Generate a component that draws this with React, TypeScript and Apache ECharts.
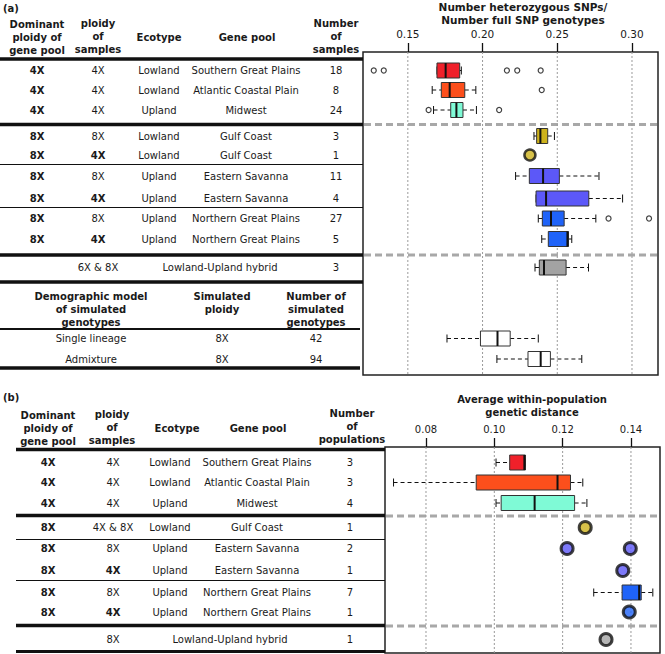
import React, { useEffect, useRef } from 'react';
import * as echarts from 'echarts';

// ---------------- DATA : panel (a) ----------------
const dominantA = ['4X', '4X', '4X', '8X', '8X', '8X', '8X', '8X', '8X', ''];
const ploidyA = ['4X', '4X', '4X', '8X', '4X', '8X', '4X', '8X', '4X', '6X & 8X'];
const ecotypeA = ['Lowland', 'Lowland', 'Upland', 'Lowland', 'Lowland', 'Upland', 'Upland', 'Upland', 'Upland', ''];
const genePoolA = [
  'Southern Great Plains', 'Atlantic Coastal Plain', 'Midwest', 'Gulf Coast', 'Gulf Coast',
  'Eastern Savanna', 'Eastern Savanna', 'Northern Great Plains', 'Northern Great Plains', 'Lowland-Upland hybrid',
];
const nSamplesA = ['18', '8', '24', '3', '1', '11', '4', '27', '5', '3'];
const simModel = ['Single lineage', 'Admixture'];
const simPloidy = ['8X', '8X'];
const simN = ['42', '94'];
const tickValuesA = [0.15, 0.2, 0.25, 0.3];

// five-number summaries [min, q1, median, q3, max] per row (rows 10, 11 = simulated)
const boxStatsA: (number[] | null)[] = [
  [0.1695, 0.1695, 0.1753, 0.1847, 0.1858],
  [0.1663, 0.1724, 0.178, 0.1881, 0.1955],
  [0.1672, 0.1787, 0.1825, 0.1869, 0.1959],
  [0.2344, 0.2362, 0.2387, 0.2436, 0.2481],
  null,
  [0.2221, 0.2313, 0.2405, 0.2514, 0.2779],
  [0.2358, 0.2358, 0.2425, 0.2711, 0.2937],
  [0.2373, 0.24, 0.2458, 0.2546, 0.2758],
  [0.2396, 0.244, 0.2568, 0.2575, 0.2597],
  [0.2351, 0.238, 0.2411, 0.2559, 0.2709],
  [0.1762, 0.1986, 0.21, 0.2185, 0.2373],
  [0.2096, 0.2304, 0.2389, 0.2454, 0.2664],
];
const outliersA: [number, number][] = [
  [0, 0.1272], [0, 0.1339], [0, 0.2163], [0, 0.2232], [0, 0.2389],
  [1, 0.2396], [2, 0.1639], [2, 0.2111], [7, 0.2843], [7, 0.3114],
];
const pointsA: [number, number][] = [[4, 0.2317]];

// ---------------- DATA : panel (b) ----------------
const dominantB = ['4X', '4X', '4X', '8X', '8X', '8X', '8X', '8X', ''];
const ploidyB = ['4X', '4X', '4X', '4X & 8X', '8X', '4X', '8X', '4X', '8X'];
const ecotypeB = ['Lowland', 'Lowland', 'Upland', 'Lowland', 'Upland', 'Upland', 'Upland', 'Upland', ''];
const genePoolB = [
  'Southern Great Plains', 'Atlantic Coastal Plain', 'Midwest', 'Gulf Coast', 'Eastern Savanna',
  'Eastern Savanna', 'Northern Great Plains', 'Northern Great Plains', 'Lowland-Upland hybrid',
];
const nPopsB = ['3', '3', '4', '1', '2', '1', '7', '1', '1'];
const tickValuesB = [0.08, 0.1, 0.12, 0.14];
const boxStatsB: (number[] | null)[] = [
  [0.1005, 0.1045, 0.1088, 0.1091, 0.1091],
  [0.0705, 0.0947, 0.1185, 0.1223, 0.1259],
  [0.1005, 0.102, 0.1118, 0.1235, 0.1271],
  null,
  null,
  null,
  [0.1291, 0.1374, 0.1424, 0.143, 0.1464],
  null,
  null,
];
const pointsB: [number, number][] = [
  [3, 0.1266], [4, 0.1213], [4, 0.1398], [5, 0.1376], [7, 0.1395], [8, 0.1327],
];

// ---------------- LAYOUT / STYLE ----------------
const ROW_Y_A = [70.5, 90, 110, 136, 155, 176, 198.5, 218.5, 239, 267.5, 338.5, 359];
const ROW_Y_B = [462.5, 482.5, 503, 527.5, 548.5, 570.5, 592.5, 612, 639.5];
const COLORS_A = ['#f0202a', '#fc4f1c', '#7ffad6', '#cdb21c', '#cdb21c', '#5c58f8', '#5c58f8', '#1f63f8', '#1f63f8', '#a3a3a3', '#ffffff', '#ffffff'];
const COLORS_B = ['#f0202a', '#fc4f1c', '#7ffad6', '#cdb21c', '#5c58f8', '#5c58f8', '#1f63f8', '#1f63f8', '#a3a3a3'];
const BOLD_PLOIDY_A = [false, false, false, false, true, false, true, false, true, false];
const BOLD_PLOIDY_B = [false, false, false, false, false, true, false, true, false];
const GA = { left: 363, top: 52, right: 658, bottom: 375 };
const GB = { left: 385, top: 447, right: 660, bottom: 653 };
const FONT = '"DejaVu Sans", Verdana, sans-serif';
const INK = '#1a1a1a';

function txt(x: number, y: number, text: string, bold = false, align = 'center', size = 10): any {
  return {
    type: 'text', x, y, silent: true,
    style: {
      text, fill: INK, font: `${bold ? 'bold ' : ''}${size}px ${FONT}`,
      textAlign: align, verticalAlign: 'middle', textVerticalAlign: 'middle', lineHeight: 13,
    },
  };
}
function hline(x1: number, x2: number, y: number, w: number, color = '#111', dash?: number[]): any {
  return {
    type: 'line', silent: true,
    shape: { x1, y1: y, x2, y2: y },
    style: { stroke: color, lineWidth: w, lineDash: dash },
  };
}

function makeBoxRender(colors: string[]) {
  return (params: any, api: any) => {
    const y = api.value(0);
    const row = api.value(6);
    const xs = [1, 2, 3, 4, 5].map((i) => api.coord([api.value(i), y])[0]);
    const cy = api.coord([api.value(1), y])[1];
    const h = 15;
    const cap = 4;
    const ls = { stroke: '#111', lineWidth: 1 };
    return {
      type: 'group',
      children: [
        { type: 'line', shape: { x1: xs[0], y1: cy, x2: xs[1], y2: cy }, style: { ...ls, lineDash: [4, 3] } },
        { type: 'line', shape: { x1: xs[3], y1: cy, x2: xs[4], y2: cy }, style: { ...ls, lineDash: [4, 3] } },
        { type: 'line', shape: { x1: xs[0], y1: cy - cap, x2: xs[0], y2: cy + cap }, style: ls },
        { type: 'line', shape: { x1: xs[4], y1: cy - cap, x2: xs[4], y2: cy + cap }, style: ls },
        { type: 'rect', shape: { x: xs[1], y: cy - h / 2, width: xs[3] - xs[1], height: h }, style: { fill: colors[row], stroke: '#333', lineWidth: 1 } },
        { type: 'line', shape: { x1: xs[2], y1: cy - h / 2, x2: xs[2], y2: cy + h / 2 }, style: { stroke: '#111', lineWidth: 2 } },
      ],
    };
  };
}

function gridLineRender(params: any, api: any) {
  const x = api.coord([api.value(0), api.value(1)])[0];
  const cs = params.coordSys;
  return {
    type: 'line',
    shape: { x1: x, y1: cs.y, x2: x, y2: cs.y + cs.height },
    style: { stroke: '#9a9a9a', lineWidth: 1, lineDash: [2, 2] },
  };
}

function buildOption() {
  const boxDataA = boxStatsA
    .map((s, i) => (s ? [ROW_Y_A[i], ...s, i] : null))
    .filter((d) => d !== null);
  const boxDataB = boxStatsB
    .map((s, i) => (s ? [ROW_Y_B[i], ...s, i] : null))
    .filter((d) => d !== null);

  const graphic: any[] = [];
  // ---- panel (a) table ----
  graphic.push(txt(3, 8, '(a)', true, 'left'));
  graphic.push(txt(37, 37, 'Dominant\nploidy of\ngene pool', true));
  graphic.push(txt(98, 36, 'ploidy\nof\nsamples', true));
  graphic.push(txt(159, 37, 'Ecotype', true));
  graphic.push(txt(247, 37, 'Gene pool', true));
  graphic.push(txt(336, 36, 'Number\nof\nsamples', true));
  for (let i = 0; i < genePoolA.length; i++) {
    const y = ROW_Y_A[i];
    if (dominantA[i]) graphic.push(txt(37, y, dominantA[i], true));
    if (i === 9) {
      graphic.push(txt(98, y, ploidyA[i]));
      graphic.push(txt(220, y, genePoolA[i]));
    } else {
      graphic.push(txt(98, y, ploidyA[i], BOLD_PLOIDY_A[i]));
      graphic.push(txt(159, y, ecotypeA[i]));
      graphic.push(txt(246, y, genePoolA[i]));
    }
    graphic.push(txt(336, y, nSamplesA[i]));
  }
  graphic.push(txt(91, 309, 'Demographic model\nof simulated\ngenotypes', true));
  graphic.push(txt(222, 303, 'Simulated\nploidy', true));
  graphic.push(txt(316, 309, 'Number of\nsimulated\ngenotypes', true));
  for (let i = 0; i < simModel.length; i++) {
    const y = ROW_Y_A[10 + i];
    graphic.push(txt(91, y, simModel[i]));
    graphic.push(txt(222, y, simPloidy[i]));
    graphic.push(txt(316, y, simN[i]));
  }
  graphic.push(hline(0, GA.left, 59, 3.5));
  graphic.push(hline(0, GA.left, 124.5, 3.5));
  graphic.push(hline(0, GA.left, 164.5, 1.2));
  graphic.push(hline(0, GA.left, 207.5, 1.2));
  graphic.push(hline(0, GA.left, 255, 3.5));
  graphic.push(hline(0, GA.left, 282, 3.5));
  graphic.push(hline(0, 360, 329, 2));
  graphic.push(hline(0, 360, 368, 3.5));
  graphic.push(hline(GA.left + 1, GA.right - 1, 124.5, 3, '#a8a8a8', [7, 4]));
  graphic.push(hline(GA.left + 1, GA.right - 1, 255, 3, '#a8a8a8', [7, 4]));
  graphic.push(txt(523, 13, 'Number heterozygous SNPs/\nNumber full SNP genotypes', true, 'center', 10.5));

  // ---- panel (b) table ----
  graphic.push(txt(3, 397, '(b)', true, 'left'));
  graphic.push(txt(48, 428, 'Dominant\nploidy of\ngene pool', true));
  graphic.push(txt(112, 427, 'ploidy\nof\nsamples', true));
  graphic.push(txt(177, 428, 'Ecotype', true));
  graphic.push(txt(258, 428, 'Gene pool', true));
  graphic.push(txt(352, 426, 'Number\nof\npopulations', true));
  for (let i = 0; i < genePoolB.length; i++) {
    const y = ROW_Y_B[i];
    if (dominantB[i]) graphic.push(txt(48, y, dominantB[i], true));
    if (i === 8) {
      graphic.push(txt(113, y, ploidyB[i]));
      graphic.push(txt(230, y, genePoolB[i]));
    } else {
      graphic.push(txt(113, y, ploidyB[i], BOLD_PLOIDY_B[i]));
      graphic.push(txt(170, y, ecotypeB[i]));
      graphic.push(txt(257, y, genePoolB[i]));
    }
    graphic.push(txt(350, y, nPopsB[i]));
  }
  graphic.push(hline(16, GB.left, 449.5, 3.5));
  graphic.push(hline(16, GB.left, 515.5, 3.5));
  graphic.push(hline(16, GB.left, 539.5, 1.2));
  graphic.push(hline(16, GB.left, 580.5, 1.2));
  graphic.push(hline(16, GB.left, 625.5, 3.5));
  graphic.push(hline(16, GB.left, 651.5, 3));
  graphic.push(hline(GB.left + 1, GB.right - 1, 516, 3, '#a8a8a8', [7, 4]));
  graphic.push(hline(GB.left + 1, GB.right - 1, 626, 3, '#a8a8a8', [7, 4]));
  graphic.push(txt(532, 406, 'Average within-population\ngenetic distance', true));

  const axisCommon = (ticks: number[], labelSize: number) => ({
    type: 'value',
    position: 'top',
    axisLine: { show: false },
    splitLine: { show: false },
    axisTick: { show: true, inside: false, length: 9, customValues: ticks, lineStyle: { color: '#111', width: 1.3 } },
    axisLabel: {
      show: true, customValues: ticks, margin: 13, color: INK, fontSize: labelSize, fontFamily: FONT,
      formatter: (v: number) => v.toFixed(2),
    },
  });

  return {
    animation: false,
    backgroundColor: '#ffffff',
    textStyle: { fontFamily: FONT },
    grid: [
      { left: GA.left, top: GA.top, width: GA.right - GA.left, height: GA.bottom - GA.top, show: true, borderColor: '#222', borderWidth: 1.5, backgroundColor: 'transparent' },
      { left: GB.left, top: GB.top, width: GB.right - GB.left, height: GB.bottom - GB.top, show: true, borderColor: '#222', borderWidth: 1.5, backgroundColor: 'transparent' },
    ],
    xAxis: [
      { ...axisCommon(tickValuesA, 10.5), gridIndex: 0, min: 0.12, max: 0.3174 },
      { ...axisCommon(tickValuesB, 10), gridIndex: 1, min: 0.068, max: 0.1485 },
    ],
    yAxis: [
      { type: 'value', gridIndex: 0, min: GA.top, max: GA.bottom, inverse: true, show: false },
      { type: 'value', gridIndex: 1, min: GB.top, max: GB.bottom, inverse: true, show: false },
    ],
    graphic,
    series: [
      {
        type: 'custom', xAxisIndex: 0, yAxisIndex: 0, silent: true, z: 1,
        data: tickValuesA.map((v) => [v, GA.top]), encode: { x: 0, y: 1 },
        renderItem: gridLineRender,
      },
      {
        type: 'custom', xAxisIndex: 1, yAxisIndex: 1, silent: true, z: 1,
        data: tickValuesB.map((v) => [v, GB.top]), encode: { x: 0, y: 1 },
        renderItem: gridLineRender,
      },
      {
        type: 'custom', xAxisIndex: 0, yAxisIndex: 0, silent: true, z: 3,
        data: boxDataA, encode: { x: [1, 2, 3, 4, 5], y: 0 },
        renderItem: makeBoxRender(COLORS_A),
      },
      {
        type: 'custom', xAxisIndex: 1, yAxisIndex: 1, silent: true, z: 3,
        data: boxDataB, encode: { x: [1, 2, 3, 4, 5], y: 0 },
        renderItem: makeBoxRender(COLORS_B),
      },
      {
        type: 'scatter', xAxisIndex: 0, yAxisIndex: 0, silent: true, z: 4,
        symbol: 'circle', symbolSize: 5,
        itemStyle: { color: 'rgba(0,0,0,0)', borderColor: '#111', borderWidth: 1.2 },
        data: outliersA.map(([r, v]) => [v, ROW_Y_A[r]]),
      },
      {
        type: 'scatter', xAxisIndex: 0, yAxisIndex: 0, silent: true, z: 4,
        symbol: 'circle', symbolSize: 11,
        data: pointsA.map(([r, v]) => ({ value: [v, ROW_Y_A[r]], itemStyle: { color: COLORS_A[r], borderColor: '#111', borderWidth: 2.5 } })),
      },
      {
        type: 'scatter', xAxisIndex: 1, yAxisIndex: 1, silent: true, z: 4,
        symbol: 'circle', symbolSize: 12,
        data: pointsB.map(([r, v]) => ({ value: [v, ROW_Y_B[r]], itemStyle: { color: COLORS_B[r], borderColor: '#111', borderWidth: 3 } })),
      },
    ],
  };
}

export default function App() {
  const ref = useRef<HTMLDivElement>(null);
  useEffect(() => {
    if (!ref.current) return;
    const chart = echarts.init(ref.current, null, { renderer: 'svg' });
    chart.setOption(buildOption() as any);
    return () => chart.dispose();
  }, []);
  return (
    <div
      ref={ref}
      style={{ position: 'absolute', left: 0, top: 0, width: 665, height: 654, background: '#fff' }}
    />
  );
}
